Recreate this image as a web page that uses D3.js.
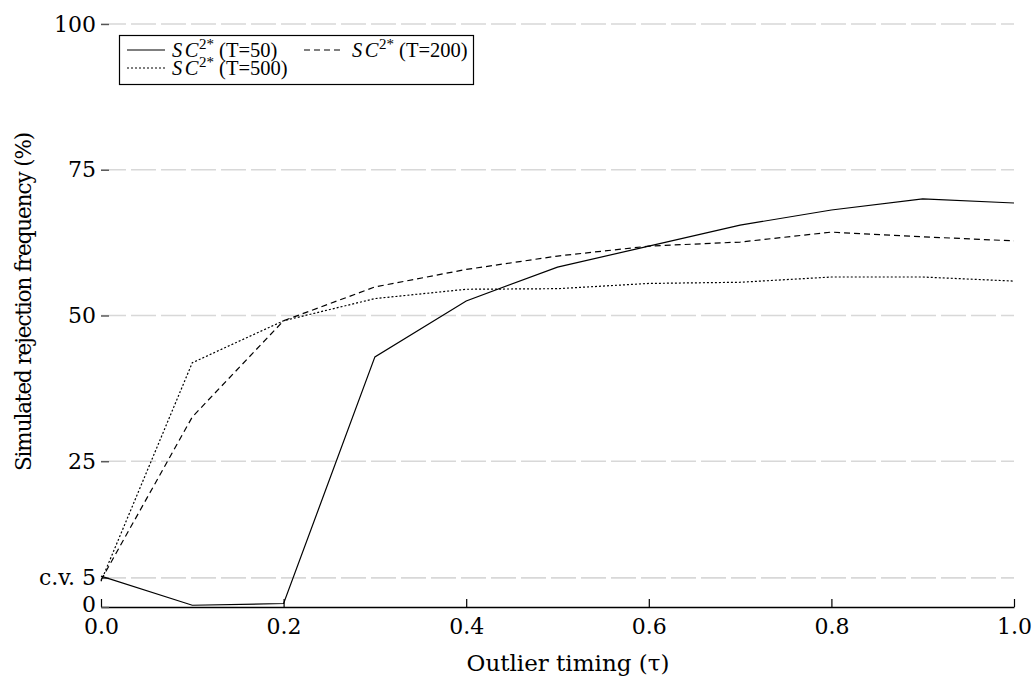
<!DOCTYPE html>
<html>
<head>
<meta charset="utf-8">
<script src="https://cdn.jsdelivr.net/npm/d3@7"></script>
<style>
  body { margin: 0; background: #fff; }
  svg { display: block; }
</style>
</head>
<body>
<svg id="chart" width="1033" height="678"></svg>
<script>
// Outlier timing grid
const tau = [0.0, 0.1, 0.2, 0.3, 0.4, 0.5, 0.6, 0.7, 0.8, 0.9, 1.0];
// Simulated rejection frequencies (%) by sample size
const rejT50  = [5.3, 0.3, 0.6, 42.9, 52.5, 58.3, 61.9, 65.5, 68.1, 70.0, 69.3];
const rejT200 = [4.6, 32.6, 49.1, 54.9, 57.9, 60.2, 61.9, 62.6, 64.3, 63.5, 62.8];
const rejT500 = [4.4, 41.9, 49.1, 52.9, 54.5, 54.6, 55.5, 55.7, 56.6, 56.6, 55.9];
const seriesNames = ["(T=50)", "(T=200)", "(T=500)"];
const xTicks = [0.0, 0.2, 0.4, 0.6, 0.8, 1.0];
const yTicks = [0, 5, 25, 50, 75, 100];
const yTickLabels = ["0", "c.v. 5", "25", "50", "75", "100"];
const gridValues = [5, 25, 50, 75, 100];

const svg = d3.select("#chart");
const serif = "'DejaVu Serif', serif";
const times = "'Liberation Serif', serif";

const x = d3.scaleLinear().domain([0, 1]).range([101, 1014]);
const y = d3.scaleLinear().domain([0, 100]).range([607, 24]);

// Dashed horizontal grid
svg.append("g").selectAll("line").data(gridValues).join("line")
  .attr("x1", x(0)).attr("x2", x(1))
  .attr("y1", d => y(d)).attr("y2", d => y(d))
  .attr("stroke", "#d8d8d8").attr("stroke-width", 1.6)
  .attr("stroke-dasharray", "25,5");

// X axis: baseline with inward ticks
const xAxis = d3.axisBottom(x).tickValues(xTicks).tickFormat(d3.format(".1f"))
  .tickSizeInner(-8).tickSizeOuter(0).tickPadding(16);
const gx = svg.append("g").attr("transform", `translate(0,${y(0)})`).call(xAxis);
gx.select(".domain").attr("stroke", "#000").attr("stroke-width", 1.3);
gx.selectAll(".tick line").attr("stroke", "#000").attr("stroke-width", 1.2);
gx.selectAll(".tick text").attr("font-family", serif).attr("font-size", 22)
  .attr("fill", "#000").attr("dy", "0.35em").attr("y", 19);

// Y axis: no domain line, inward ticks
const yAxis = d3.axisLeft(y).tickValues(yTicks)
  .tickFormat((d, i) => yTickLabels[i]).tickSizeInner(-8).tickSizeOuter(0).tickPadding(6);
const gy = svg.append("g").attr("transform", `translate(${x(0)},0)`).call(yAxis);
gy.select(".domain").remove();
gy.selectAll(".tick line").attr("stroke", "#555").attr("stroke-width", 1.4);
gy.selectAll(".tick text").attr("font-family", serif).attr("font-size", 22)
  .attr("fill", "#000").attr("x", -5);
gy.selectAll(".tick").filter(d => d === 0).select("text").attr("dy", "0.2em");

// Axis titles
svg.append("text").attr("x", 568).attr("y", 671).attr("text-anchor", "middle")
  .attr("font-family", serif).attr("font-size", 23).text("Outlier timing (τ)");
svg.append("text").attr("transform", `translate(31,302) rotate(-90)`)
  .attr("text-anchor", "middle").attr("font-family", serif).attr("font-size", 21.5)
  .attr("letter-spacing", -1.1)
  .text("Simulated rejection frequency (%)");

// Series lines
const series = [
  { values: rejT50,  dash: null },
  { values: rejT200, dash: "6,4" },
  { values: rejT500, dash: "2,2" }
];
const line = d3.line().x((d, i) => x(tau[i])).y(d => y(d));
svg.append("g").selectAll("path").data(series).join("path")
  .attr("d", d => line(d.values))
  .attr("fill", "none").attr("stroke", "#000").attr("stroke-width", 1.2)
  .attr("stroke-dasharray", d => d.dash);

// Legend
const legend = svg.append("g");
legend.append("rect").attr("x", 119.5).attr("y", 35.5).attr("width", 354).attr("height", 49)
  .attr("fill", "#fff").attr("stroke", "#000").attr("stroke-width", 1.2);
const legendPos = [
  { lx: 127, tx: 172, yy: 50 },
  { lx: 304, tx: 352, yy: 50 },
  { lx: 127, tx: 172, yy: 68 }
];
series.forEach((s, i) => {
  const p = legendPos[i];
  legend.append("line").attr("x1", p.lx).attr("x2", p.lx + 38)
    .attr("y1", p.yy).attr("y2", p.yy)
    .attr("stroke", "#000").attr("stroke-width", 1.1).attr("stroke-dasharray", s.dash);
  const t = legend.append("text").attr("x", p.tx).attr("y", p.yy + 7)
    .attr("font-family", times).attr("font-size", 20.5);
  t.append("tspan").attr("font-style", "italic").attr("letter-spacing", 2.5).text("SC");
  t.append("tspan").attr("font-size", 15).attr("dx", -2).attr("dy", -8).text("2*");
  t.append("tspan").attr("dy", 8).text(" " + seriesNames[i]);
});
</script>
</body>
</html>
